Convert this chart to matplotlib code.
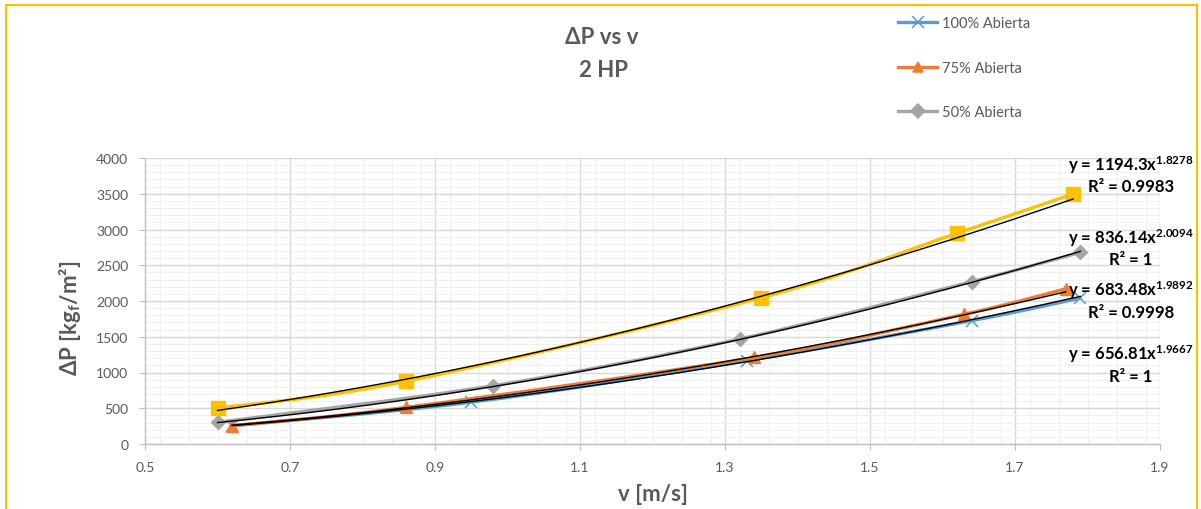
import numpy as np
import matplotlib
matplotlib.use("Agg")
import matplotlib.pyplot as plt
from matplotlib.path import Path
from matplotlib.patches import PathPatch, Rectangle
from matplotlib.lines import Line2D
from matplotlib.ticker import MultipleLocator

plt.rcParams['font.family'] = ['Lato', 'DejaVu Sans']
plt.rcParams['mathtext.fontset'] = 'custom'
plt.rcParams['mathtext.bf'] = 'Lato:bold'
plt.rcParams['mathtext.rm'] = 'Lato:bold'
plt.rcParams['mathtext.default'] = 'bf'

# ---------------- data ----------------
labels = ["100% Abierta", "75% Abierta", "50% Abierta", None]
v_100 = [0.62, 0.95, 1.33, 1.64, 1.79]
dp_100 = [255, 585, 1165, 1725, 2040]
v_75 = [0.62, 0.86, 1.34, 1.63, 1.77]
dp_75 = [255, 512, 1210, 1815, 2170]
v_50 = [0.60, 0.98, 1.32, 1.64, 1.79]
dp_50 = [303, 815, 1468, 2270, 2680]
v_25 = [0.60, 0.86, 1.35, 1.62, 1.78]
dp_25 = [500, 877, 2045, 2947, 3497]

# power trendlines y = a * x^b
coef_a = [656.81, 683.48, 836.14, 1194.3]
coef_b = [1.9667, 1.9892, 2.0094, 1.8278]
r2_txt = ["1", "0.9998", "1", "0.9983"]
a_txt = ["656.81", "683.48", "836.14", "1194.3"]
b_txt = ["1.9667", "1.9892", "2.0094", "1.8278"]

x_ticks = [0.5, 0.7, 0.9, 1.1, 1.3, 1.5, 1.7, 1.9]
x_tick_labels = ["0.5", "0.7", "0.9", "1.1", "1.3", "1.5", "1.7", "1.9"]
y_ticks = [0, 500, 1000, 1500, 2000, 2500, 3000, 3500, 4000]

series_v = [v_100, v_75, v_50, v_25]
series_dp = [dp_100, dp_75, dp_50, dp_25]

# ---------------- style ----------------
colors = ["#5B9BD5", "#ED7D31", "#A5A5A5", "#FFC000"]
markers = ["x", "^", "D", "s"]
msizes = [9, 9, 7, 10]
TXT = "#595959"

W, H = 1201, 510
fig = plt.figure(figsize=(W / 100, H / 100), dpi=100)
ax = fig.add_axes([145 / W, 1 - 445 / H, (1160 - 145) / W, (445 - 159) / H])


def smooth_path(xs, ys):
    P = np.column_stack([xs, ys]).astype(float)
    n = len(P)
    verts = [P[0]]
    codes = [Path.MOVETO]
    for i in range(n - 1):
        pp = P[i - 1] if i > 0 else P[i]
        pn = P[i + 2] if i + 2 < n else P[i + 1]
        c1 = P[i] + (P[i + 1] - pp) / 6.0
        c2 = P[i + 1] - (pn - P[i]) / 6.0
        verts += [c1, c2, P[i + 1]]
        codes += [Path.CURVE4] * 3
    return Path(verts, codes)


handles = []
for k in range(4):
    xs, ys = series_v[k], series_dp[k]
    patch = PathPatch(smooth_path(xs, ys), facecolor='none', edgecolor=colors[k],
                      lw=2.4, zorder=3 + k * 0.1, capstyle='round')
    ax.add_patch(patch)
    if markers[k] == "x":
        ax.plot(xs, ys, linestyle='none', marker='x', ms=msizes[k], mew=1.1,
                color=colors[k], zorder=3.05 + k * 0.1)
    else:
        ax.plot(xs, ys, linestyle='none', marker=markers[k], ms=msizes[k],
                color=colors[k], mec=colors[k], zorder=3.05 + k * 0.1)
    if labels[k]:
        handles.append(Line2D([], [], color=colors[k], lw=2.4, marker=markers[k],
                              ms=7 if markers[k] != "x" else 8, mew=1.1,
                              label=labels[k]))

# trendlines
for k in range(4):
    xs = np.linspace(min(series_v[k]), max(series_v[k]), 300)
    ax.plot(xs, coef_a[k] * xs ** coef_b[k], color="black", lw=1.0, zorder=5)

ax.set_xlim(0.5, 1.9)
ax.set_ylim(0, 4000)
ax.set_xticks(x_ticks)
ax.set_xticklabels(x_tick_labels)
ax.set_yticks(y_ticks)
ax.xaxis.set_minor_locator(MultipleLocator(0.04))
ax.yaxis.set_minor_locator(MultipleLocator(100))
ax.grid(which='major', color="#D9D9D9", lw=1.0, zorder=0)
ax.grid(which='minor', color="#F0F0F0", lw=0.8, zorder=0)
ax.set_axisbelow(True)
for s in ['top', 'right']:
    ax.spines[s].set_visible(False)
for s in ['left', 'bottom']:
    ax.spines[s].set_color("#BFBFBF")
    ax.spines[s].set_linewidth(1.0)
ax.tick_params(which='major', direction='out', length=4, color="#BFBFBF",
               labelsize=10, labelcolor=TXT, pad=8)
ax.tick_params(which='minor', length=0)

ax.set_xlabel("v [m/s]", fontsize=16, fontweight='bold', color=TXT)
ax.xaxis.set_label_coords((653 - 145) / 1015, -(495 - 445) / 286)
ax.xaxis.label.set_va('center')
ax.set_ylabel("ΔP [kg$_{f}$/m²]", fontsize=16, fontweight='bold', color=TXT)
ax.yaxis.set_label_coords(-(145 - 70) / 1015, (445 - 318) / 286)
ax.yaxis.label.set_va('center')

# title
fig.text(602 / W, 1 - 37 / H, "ΔP vs v", ha='center', va='center', fontsize=16,
         fontweight='bold', color=TXT)
fig.text(603 / W, 1 - 71 / H, "2 HP", ha='center', va='center', fontsize=16,
         fontweight='bold', color=TXT)

# legend
fig.legend(handles=handles, loc='upper left', bbox_to_anchor=(898 / W, 1 - 17 / H),
           frameon=False, fontsize=10.5, labelcolor=TXT, labelspacing=2.1,
           handlelength=2.7, handletextpad=0.3, borderpad=0, borderaxespad=0)

# trendline labels
eq_y = [354, 290, 238, 165]
r2_y = [377, 313, 260, 187]
for k in range(4):
    fig.text(1131 / W, 1 - eq_y[k] / H, "y = %sx$^{%s}$" % (a_txt[k], b_txt[k]),
             ha='center', va='center', fontsize=12, fontweight='bold', color='black')
    fig.text(1131 / W, 1 - r2_y[k] / H, "R² = %s" % r2_txt[k],
             ha='center', va='center', fontsize=12, fontweight='bold', color='black')

# chart border
fig.patches.append(Rectangle((5.5 / W, -0.1), (1197 - 5.5) / W, 1.1 - 5.5 / H,
                             transform=fig.transFigure, fill=False,
                             edgecolor="#FFC000", lw=1.5))

fig.savefig("out.png", dpi=100)
